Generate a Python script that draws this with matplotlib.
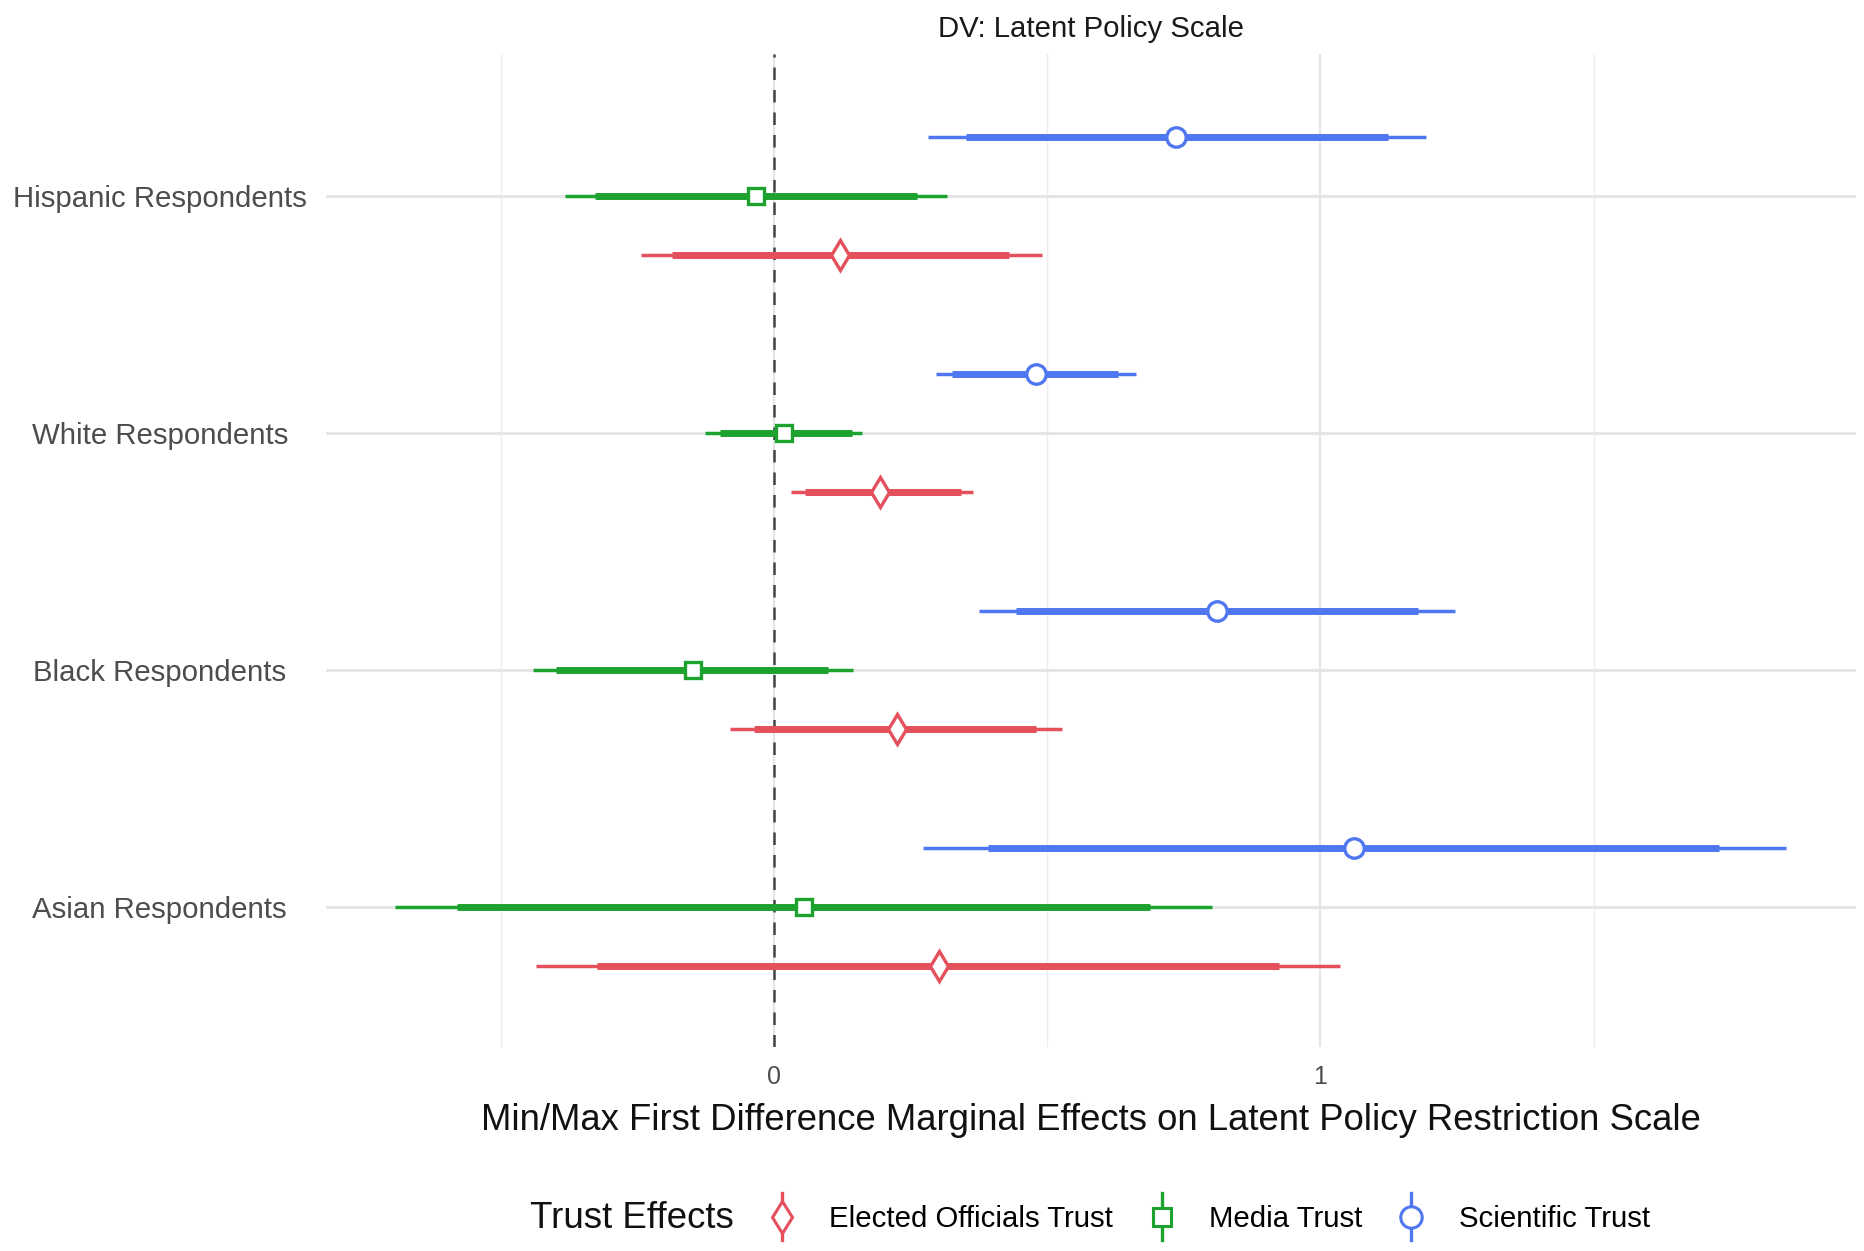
import matplotlib
matplotlib.use("Agg")
import matplotlib.pyplot as plt
from matplotlib.lines import Line2D
from matplotlib.legend_handler import HandlerBase
import numpy as np

plt.rcParams['font.family'] = ['Liberation Sans', 'DejaVu Sans']

# ---- data ----
groups = ["Asian Respondents", "Black Respondents", "White Respondents", "Hispanic Respondents"]
series = ["Elected Officials Trust", "Media Trust", "Scientific Trust"]

# estimates per series, order follows groups
elected_est = [0.301, 0.224, 0.194, 0.120]
elected_lo90 = [-0.325, -0.037, 0.057, -0.187]
elected_hi90 = [0.924, 0.479, 0.342, 0.429]
elected_lo95 = [-0.436, -0.081, 0.031, -0.244]
elected_hi95 = [1.035, 0.527, 0.364, 0.490]

media_est = [0.054, -0.148, 0.017, -0.033]
media_lo90 = [-0.580, -0.399, -0.100, -0.329]
media_hi90 = [0.688, 0.098, 0.142, 0.261]
media_lo95 = [-0.695, -0.442, -0.126, -0.383]
media_hi95 = [0.802, 0.144, 0.161, 0.316]

sci_est = [1.061, 0.810, 0.479, 0.736]
sci_lo90 = [0.392, 0.442, 0.325, 0.351]
sci_hi90 = [1.730, 1.179, 0.630, 1.124]
sci_lo95 = [0.272, 0.375, 0.296, 0.281]
sci_hi95 = [1.852, 1.246, 0.662, 1.194]

x_ticks = [0, 1]
x_minor = [-0.5, 0.5, 1.5]

colors = {"Elected Officials Trust": "#E4505C",
          "Media Trust": "#1DA22F",
          "Scientific Trust": "#4F77F0"}
markers = {"Elected Officials Trust": "d",
           "Media Trust": "s",
           "Scientific Trust": "o"}
msizes = {"Elected Officials Trust": 15, "Media Trust": 11.5, "Scientific Trust": 14}
offsets = {"Elected Officials Trust": -0.25, "Media Trust": 0.0, "Scientific Trust": 0.25}

data = {
    "Elected Officials Trust": (elected_est, elected_lo90, elected_hi90, elected_lo95, elected_hi95),
    "Media Trust": (media_est, media_lo90, media_hi90, media_lo95, media_hi95),
    "Scientific Trust": (sci_est, sci_lo90, sci_hi90, sci_lo95, sci_hi95),
}

fig = plt.figure(figsize=(18.65, 12.51), dpi=100)
ax = fig.add_axes([0.175, 0.163, 0.82, 0.794])

ypos = np.arange(1, len(groups) + 1)

# grid
for xm in x_minor:
    ax.axvline(xm, color="#EDEDED", lw=1.0, zorder=0)
for xt in x_ticks:
    ax.axvline(xt, color="#E5E5E5", lw=1.6, zorder=0)
for y in ypos:
    ax.axhline(y, color="#E3E3E3", lw=2.0, zorder=0)

ax.axvline(0, color="#444444", lw=1.8, ls=(0, (5, 4)), zorder=1)

for s in series:
    est, lo90, hi90, lo95, hi95 = data[s]
    yy = ypos + offsets[s]
    c = colors[s]
    ax.hlines(yy, lo95, hi95, color=c, lw=2.5, zorder=2)
    ax.hlines(yy, lo90, hi90, color=c, lw=5.0, zorder=3)
    ax.plot(est, yy, ls="none", marker=markers[s], ms=msizes[s],
            mfc="white", mec=c, mew=2.4, zorder=4)

ax.set_xlim(-0.82, 1.98)
ax.set_ylim(0.41, 4.60)
ax.set_xticks(x_ticks)
ax.set_xticklabels([str(t) for t in x_ticks])
ax.set_yticks(ypos)
ax.set_yticklabels(groups, ha="center")
ax.tick_params(axis="y", length=0, pad=120, labelsize=21.2, labelcolor="#4D4D4D")
ax.tick_params(axis="x", length=0, pad=13, labelsize=18, labelcolor="#4D4D4D")
for sp in ax.spines.values():
    sp.set_visible(False)

ax.set_xlabel("Min/Max First Difference Marginal Effects on Latent Policy Restriction Scale",
              fontsize=26.3, color="#111111", labelpad=10)
ax.set_title("DV: Latent Policy Scale", fontsize=21.2, color="#1A1A1A", pad=12)


class HandlerPointRange(HandlerBase):
    def create_artists(self, legend, orig_handle, xdescent, ydescent, width, height,
                       fontsize, trans):
        cx = width / 2 - xdescent
        cy = height / 2 - ydescent
        half = 17
        vline = Line2D([cx, cx], [cy - half, cy + half], color=orig_handle.get_color(),
                       lw=2.4, transform=trans)
        mk = Line2D([cx], [cy], ls="none", marker=orig_handle.get_marker(),
                    ms=orig_handle.get_markersize() * 1.1, mfc="white",
                    mec=orig_handle.get_color(), mew=2.2, transform=trans)
        return [vline, mk]


handles = [Line2D([], [], color=colors[s], marker=markers[s], ms=msizes[s]) for s in series]
leg = fig.legend(handles, series, loc="center left", bbox_to_anchor=(0.397, 0.0256),
                 ncol=3, frameon=False, fontsize=21.2, handlelength=1.0,
                 handletextpad=1.1, columnspacing=1.17,
                 handler_map={Line2D: HandlerPointRange()})
fig.text(0.339, 0.0256, "Trust Effects", fontsize=26.4, ha="center", va="center", color="#111111")

fig.savefig("out.png", dpi=100, facecolor="white")
